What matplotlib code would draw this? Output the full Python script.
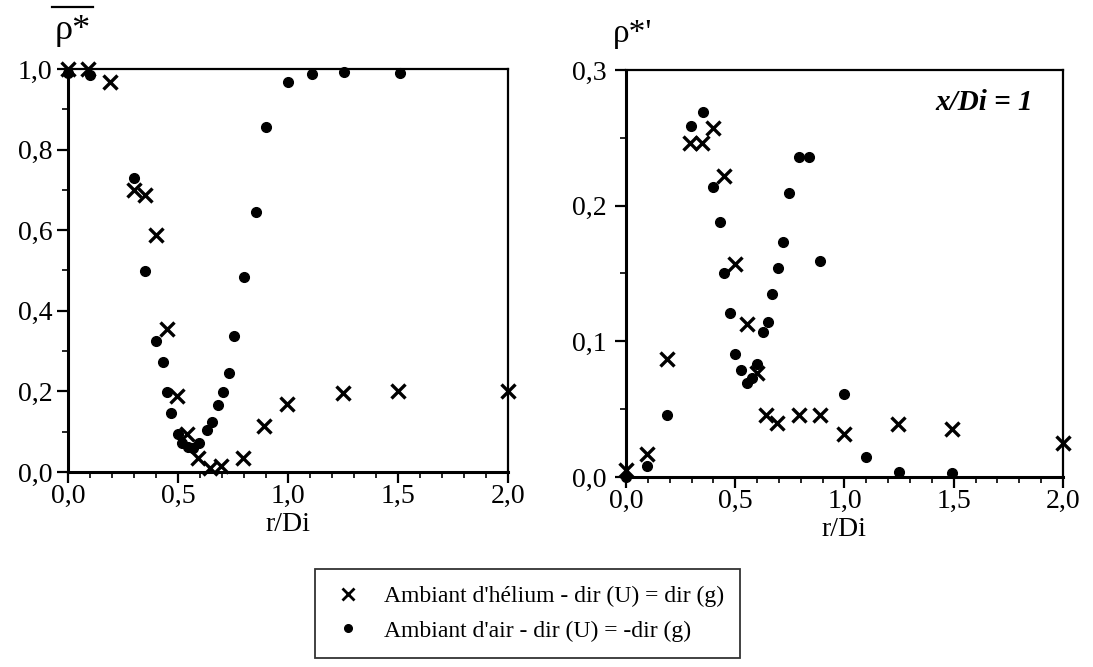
import matplotlib
matplotlib.use("Agg")
import matplotlib.pyplot as plt
from matplotlib.ticker import MultipleLocator, FuncFormatter
from matplotlib.lines import Line2D

plt.rcParams['font.family'] = ['Liberation Serif', 'DejaVu Serif']

# mean density, helium ambient (crosses)
mean_he_r = [0, 0.09, 0.19, 0.30, 0.35, 0.40, 0.45, 0.495, 0.54, 0.59, 0.645, 0.695,
             0.795, 0.89, 0.995, 1.25, 1.5, 2.0]
mean_he_v = [1.0, 1.0, 0.968, 0.70, 0.687, 0.588, 0.355, 0.189, 0.094, 0.035, 0.01, 0.015,
             0.035, 0.114, 0.169, 0.196, 0.201, 0.201]

# mean density, air ambient (dots)
mean_air_r = [0, 0.10, 0.30, 0.35, 0.40, 0.43, 0.45, 0.47, 0.50, 0.52, 0.545, 0.57, 0.595,
              0.63, 0.655, 0.68, 0.705, 0.73, 0.755, 0.80, 0.855, 0.90, 1.0, 1.11, 1.255, 1.51]
mean_air_v = [0.99, 0.985, 0.73, 0.499, 0.325, 0.272, 0.199, 0.146, 0.093, 0.073, 0.062, 0.06,
              0.073, 0.105, 0.124, 0.165, 0.199, 0.246, 0.337, 0.484, 0.645, 0.856, 0.968,
              0.988, 0.993, 0.99]

# fluctuation, helium ambient (crosses)
rms_he_r = [0, 0.095, 0.19, 0.293, 0.35, 0.40, 0.45, 0.50, 0.553, 0.60, 0.64, 0.69, 0.79,
            0.89, 1.0, 1.245, 1.49, 2.0]
rms_he_v = [0.005, 0.017, 0.087, 0.246, 0.246, 0.257, 0.222, 0.157, 0.113, 0.077, 0.046,
            0.040, 0.046, 0.046, 0.032, 0.039, 0.035, 0.025]

# fluctuation, air ambient (dots)
rms_air_r = [0, 0.095, 0.19, 0.297, 0.352, 0.40, 0.43, 0.45, 0.475, 0.50, 0.527, 0.553,
             0.576, 0.60, 0.627, 0.65, 0.67, 0.695, 0.72, 0.745, 0.79, 0.84, 0.89, 1.0,
             1.10, 1.25, 1.49]
rms_air_v = [0.0, 0.008, 0.046, 0.259, 0.269, 0.214, 0.188, 0.150, 0.121, 0.091, 0.079,
             0.069, 0.073, 0.083, 0.107, 0.114, 0.135, 0.154, 0.173, 0.209, 0.236, 0.236,
             0.159, 0.061, 0.015, 0.004, 0.003]

legend_labels = ["Ambiant d'hélium - dir (U) = dir (g)", "Ambiant d'air - dir (U) = -dir (g)"]

comma = FuncFormatter(lambda v, _: f"{v:.1f}".replace('.', ','))


def style_axes(ax, ymax, ymajor, yminor, ypad):
    ax.set_xlim(0, 2)
    ax.set_ylim(0, ymax)
    ax.xaxis.set_major_locator(MultipleLocator(0.5))
    ax.xaxis.set_minor_locator(MultipleLocator(0.1))
    ax.yaxis.set_major_locator(MultipleLocator(ymajor))
    ax.yaxis.set_minor_locator(MultipleLocator(yminor))
    ax.xaxis.set_major_formatter(comma)
    ax.yaxis.set_major_formatter(comma)
    ax.tick_params(which='major', direction='out', length=8, width=1.6, labelsize=20)
    ax.tick_params(which='minor', direction='out', length=4.5, width=1.2)
    ax.tick_params(axis='x', which='major', pad=0.5)
    ax.tick_params(axis='y', which='major', pad=ypad)
    for s in ax.spines.values():
        s.set_linewidth(1.6)
    ax.spines['left'].set_linewidth(2.2)
    ax.spines['bottom'].set_linewidth(2.2)
    ax.set_xlabel("r/Di", fontsize=20, labelpad=2)


fig = plt.figure(figsize=(10.93, 6.67), dpi=100)
ax1 = fig.add_axes([0.0622, 0.2924, 0.4026, 0.6042])
ax2 = fig.add_axes([0.5727, 0.2849, 0.3998, 0.6102])

cross = dict(marker='x', linestyle='none', color='black', ms=10, mew=2.4, clip_on=False)
dot = dict(marker='o', linestyle='none', color='black', ms=7, clip_on=False)

ax1.plot(mean_he_r, mean_he_v, **cross)
ax1.plot(mean_air_r, mean_air_v, **dot)
style_axes(ax1, 1.0, 0.2, 0.1, 3)

ax2.plot(rms_he_r, rms_he_v, **cross)
ax2.plot(rms_air_r, rms_air_v, **dot)
style_axes(ax2, 0.3, 0.1, 0.05, 6)

# y labels: rho* with overline, rho*'
fig.text(0.050, 0.955, "ρ*", fontsize=26, ha='left', va='center')
fig.add_artist(Line2D([0.048, 0.085], [0.989, 0.989], color='black', lw=1.6))
fig.text(0.561, 0.950, "ρ*'", fontsize=24, ha='left', va='center')
ax2.text(0.82, 0.92, "x/Di = 1", transform=ax2.transAxes, fontsize=21,
         fontweight='bold', fontstyle='italic', ha='center', va='center')

handles = [Line2D([], [], marker='x', linestyle='none', color='black', ms=8, mew=2.0),
           Line2D([], [], marker='o', linestyle='none', color='black', ms=5.5)]
leg = fig.legend(handles, legend_labels, loc='center', bbox_to_anchor=(0.483, 0.080),
                 fontsize=17, frameon=True, fancybox=False, edgecolor='black',
                 handlelength=1.4, handletextpad=0.8, borderpad=0.7, labelspacing=0.55)
leg.get_frame().set_linewidth(1.3)

fig.savefig("out.png", dpi=100)
